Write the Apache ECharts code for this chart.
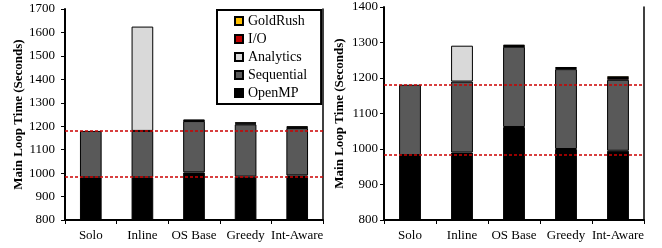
<!DOCTYPE html>
<html>
<head>
<meta charset="utf-8">
<script src="https://cdn.jsdelivr.net/npm/echarts@6/dist/echarts.min.js"></script>
<style>
  html, body { margin: 0; padding: 0; background: #fff; }
  #main { width: 662px; height: 248px; }
</style>
</head>
<body>
<div id="main"></div>
<script>
// categories
var categories = ['Solo', 'Inline', 'OS Base', 'Greedy', 'Int-Aware'];

// left panel segments (seconds)
var openmpA = [982, 982, 1003, 985, 990];
var sequentialA = [198, 198, 219, 223, 202];
var analyticsA = [0, 445, 0, 0, 0];
var ioA = [0, 0, 2, 4, 3];
var goldrushA = [0, 0, 4, 5, 5];

// right panel segments (seconds)
var openmpB = [983, 990, 1062, 1000, 995];
var sequentialB = [198, 200, 226, 225, 200];
var analyticsB = [0, 101, 0, 0, 0];
var ioB = [0, 0, 2, 3, 5];
var goldrushB = [0, 0, 4, 3, 5];

// dashed reference lines
var refLinesA = [1180, 983];
var refLinesB = [1181, 983];

var ticksA = { min: 800, max: 1700, interval: 100 };
var ticksB = { min: 800, max: 1400, interval: 100 };

var FONT = 'Liberation Serif';

var seriesDefs = [
    { name: 'OpenMP', color: '#000000', a: openmpA, b: openmpB },
    { name: 'Sequential', color: '#595959', a: sequentialA, b: sequentialB },
    { name: 'Analytics', color: '#D9D9D9', a: analyticsA, b: analyticsB },
    { name: 'I/O', color: '#C00000', a: ioA, b: ioB },
    { name: 'GoldRush', color: '#FFC000', a: goldrushA, b: goldrushB }
];

function clean(arr) {
    return arr.map(function (v) { return v === 0 ? '-' : v; });
}

function refLine(vals) {
    return {
        silent: true,
        symbol: 'none',
        label: { show: false },
        lineStyle: { color: '#CC0000', type: [3, 2], width: 1.5 },
        data: vals.map(function (v) { return { yAxis: v }; })
    };
}

var series = [];
seriesDefs.forEach(function (d, i) {
    series.push({
        name: d.name,
        type: 'bar',
        stack: 'a',
        xAxisIndex: 0,
        yAxisIndex: 0,
        barWidth: '42%',
        itemStyle: { color: d.color, borderColor: '#000', borderWidth: 1 },
        data: clean(d.a),
        markLine: i === 0 ? refLine(refLinesA) : undefined
    });
    series.push({
        name: d.name,
        type: 'bar',
        stack: 'b',
        xAxisIndex: 1,
        yAxisIndex: 2,
        barWidth: '42%',
        itemStyle: { color: d.color, borderColor: '#000', borderWidth: 1 },
        data: clean(d.b),
        markLine: i === 0 ? refLine(refLinesB) : undefined
    });
});

function xAxisOf(idx) {
    return {
        type: 'category',
        gridIndex: idx,
        data: categories,
        axisLine: { lineStyle: { color: '#000', width: 2 } },
        axisTick: { show: true, length: 4, lineStyle: { color: '#000', width: 1 } },
        axisLabel: { color: '#000', fontFamily: FONT, fontSize: 13, margin: 9, interval: 0 }
    };
}

function yAxisOf(idx, t, gap, labelMargin) {
    return {
        type: 'value',
        gridIndex: idx,
        min: t.min,
        max: t.max,
        interval: t.interval,
        name: 'Main Loop Time (Seconds)',
        nameLocation: 'middle',
        nameGap: gap,
        nameTextStyle: { color: '#000', fontFamily: FONT, fontSize: 13, fontWeight: 'bold' },
        splitLine: { show: false },
        axisLine: { show: true, lineStyle: { color: '#000', width: 2 } },
        axisTick: { show: true, length: 4, lineStyle: { color: '#000', width: 1 } },
        axisLabel: {
            color: '#000', fontFamily: FONT, fontSize: 13, margin: labelMargin,
            formatter: function (v) { return String(v); }
        }
    };
}

function frameAxis(idx, t) {
    return {
        type: 'value',
        gridIndex: idx,
        position: 'right',
        min: t.min,
        max: t.max,
        interval: t.interval,
        splitLine: { show: false },
        axisLine: { show: true, lineStyle: { color: '#000', width: 1.5 } },
        axisTick: { show: false },
        axisLabel: { show: false }
    };
}

var myChart = echarts.init(document.getElementById('main'));
var option = {
    animation: false,
    backgroundColor: '#fff',
    grid: [
        { left: 65, right: 339, top: 9, bottom: 28 },
        { left: 384, right: 18, top: 7, bottom: 28 }
    ],
    legend: {
        orient: 'vertical',
        left: 217,
        top: 10,
        data: ['GoldRush', 'I/O', 'Analytics', 'Sequential', 'OpenMP'],
        icon: 'rect',
        itemWidth: 8,
        itemHeight: 8,
        itemGap: 4,
        padding: [4, 14, 4, 17],
        borderColor: '#000',
        borderWidth: 2,
        backgroundColor: '#fff',
        textStyle: { color: '#000', fontFamily: FONT, fontSize: 14 }
    },
    xAxis: [xAxisOf(0), xAxisOf(1)],
    yAxis: [
        yAxisOf(0, ticksA, 40, 10),
        frameAxis(0, ticksA),
        yAxisOf(1, ticksB, 38, 6),
        frameAxis(1, ticksB)
    ],
    series: series
};
myChart.setOption(option);
</script>
</body>
</html>
